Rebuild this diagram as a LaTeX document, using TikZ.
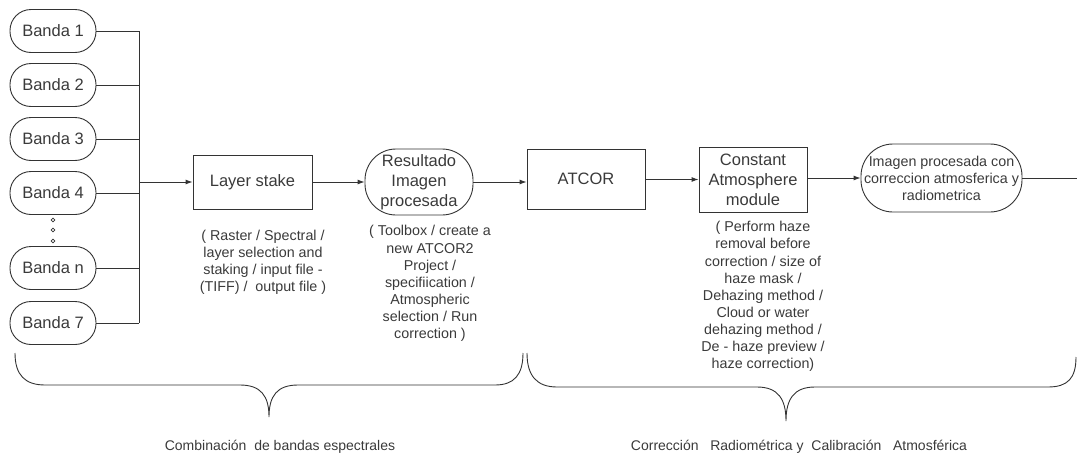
\documentclass[tikz,border=0pt]{standalone}
\usepackage{fontspec}
\setmainfont{Liberation Sans}
\usetikzlibrary{arrows.meta}
\definecolor{ink}{HTML}{333333}
\definecolor{txt}{HTML}{3A3A3A}
\tikzset{
  x=1pt, y=-1pt,
  every node/.style={text=txt},
  band/.style={draw=ink, line width=0.9pt, rounded corners=21pt, minimum width=86pt, minimum height=43pt, inner sep=0pt, font=\fontsize{16.5}{20}\selectfont},
  boxnode/.style={draw=ink, line width=0.9pt, inner sep=0pt, align=center, font=\fontsize{16.5}{20}\selectfont},
  pill/.style={draw=ink, line width=0.9pt, inner sep=0pt, align=center},
  desc/.style={align=center, inner sep=0pt, font=\fontsize{14.3}{17.1}\selectfont},
  lbl/.style={inner sep=0pt, font=\fontsize{14}{17}\selectfont},
  conn/.style={draw=ink, line width=0.9pt},
  arr/.style={conn, -{Latex[length=7pt,width=5pt]}},
  dotc/.style={draw=ink, line width=0.7pt, circle, minimum size=3.6pt, inner sep=0pt},
}
\begin{document}
\begin{tikzpicture}
\useasboundingbox (0,0) rectangle (1077,458);
% bands
\node[band] (b1) at (53,31) {Banda 1};
\node[band] (b2) at (53,85) {Banda 2};
\node[band] (b3) at (53,139) {Banda 3};
\node[band] (b4) at (53,193) {Banda 4};
\node[band] (bn) at (53,268) {Banda n};
\node[band] (b7) at (53,323) {Banda 7};
\node[dotc] (d1) at (53,220) {};
\node[dotc] (d2) at (53,230) {};
\node[dotc] (d3) at (53,241) {};
% bus
\coordinate (bus) at (139,182);
\draw[conn] (b1.east -| bus) -- (b7.east -| bus);
\foreach \b in {b1,b2,b3,b4,bn,b7} \draw[conn] (\b.east) -- (\b.east -| bus);
% main nodes
\node[boxnode, minimum width=119pt, minimum height=54pt] (ls) at (252.5,182) {Layer stake};
\node[pill, rounded corners=31pt, minimum width=108pt, minimum height=66pt, font=\fontsize{16.5}{20}\selectfont] (res) at (419,182) {Resultado\\Imagen\\procesada};
\node[boxnode, minimum width=118pt, minimum height=60pt] (atc) at (586,179) {ATCOR};
\node[boxnode, minimum width=108pt, minimum height=65pt] (cam) at (753,179.5) {Constant\\Atmosphere\\module};
\node[pill, rounded corners=32pt, minimum width=161pt, minimum height=68pt, font=\fontsize{14.3}{17}\selectfont] (fin) at (941.5,178) {Imagen procesada con\\correccion atmosferica y\\radiometrica};
\coordinate (endp) at (1077,178);
% connectors
\draw[arr] (bus) -- (ls.west);
\draw[arr] (ls.east) -- (res.west);
\draw[arr] (res.east) -- (res.east -| atc.west);
\draw[arr] (atc.east |- cam.west) -- (cam.west);
\draw[arr] (cam.east |- fin.west) -- (fin.west);
\draw[conn] (fin.east) -- (endp);
% descriptions
\node[desc] (dls) at (263,262) {( Raster / Spectral /\\layer selection and\\staking / input file -\\(TIFF) /\ \ output file )};
\node[desc] (dres) at (430,283.5) {( Toolbox / create a\\new ATCOR2\\Project /\\specifiication /\\Atmospheric\\selection / Run\\correction )};
\node[desc] (dcam) at (763,296.5) {( Perform haze\\removal before\\correction / size of\\haze mask /\\Dehazing method /\\Cloud or water\\dehazing method /\\De - haze preview /\\haze correction)};
% braces
\draw[conn] (15,353) .. controls (15,375) and (25,385) .. (45,385) -- (240,385)
  .. controls (261,385) and (269,396) .. (269,417)
  .. controls (269,396) and (277,385) .. (298,385) -- (495,385)
  .. controls (514,385) and (523,375) .. (523,353);
\draw[conn] (527,353) .. controls (527,376) and (537,387) .. (557,387) -- (757,387)
  .. controls (778,387) and (786,399) .. (786,421)
  .. controls (786,399) and (794,387) .. (815,387) -- (1048,387)
  .. controls (1068,387) and (1076,378) .. (1076,357);
% labels
\node[lbl] (l1) at (280,447) {Combinación\ \ de bandas espectrales};
\node[lbl] (l2) at (799,447) {Corrección\ \ \ Radiométrica y\ \ Calibración\ \ \ Atmosférica};
\end{tikzpicture}
\end{document}
